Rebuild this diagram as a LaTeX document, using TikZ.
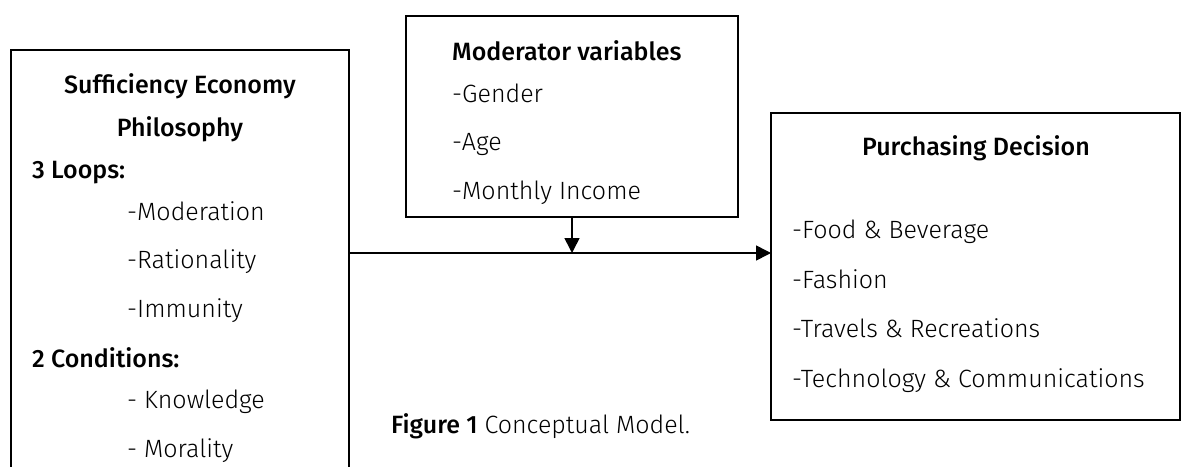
\documentclass[tikz,border=0pt]{standalone}
\usepackage{fontspec}
\setmainfont{Fira Sans Light}[BoldFont={Fira Sans Medium}]
\usepackage{tikz}
\usetikzlibrary{arrows.meta,positioning}
\newcommand{\fsz}{\fontsize{25}{29}\selectfont}
\tikzset{
  blk/.style={draw, line width=1.6pt, rectangle, anchor=north west, inner sep=0pt, outer sep=0pt},
  txt/.style={anchor=base west, inner sep=0pt, font=\fsz},
  bt/.style={txt, font=\fsz\bfseries},
  hd/.style={anchor=base, inner sep=0pt, font=\fsz\bfseries},
  arr/.style={line width=1.6pt, -{Triangle[length=15pt,width=15pt]}},
  every picture/.style={line cap=butt, line join=miter}
}
\begin{document}
\begin{tikzpicture}[x=1pt,y=-1pt]
  \clip (0,0) rectangle (1181,466);
  % the three boxes
  \node[blk, minimum width=338pt, minimum height=460pt] (sep) at (11,50) {};
  \node[blk, minimum width=332pt, minimum height=201pt] (mod) at (406,16) {};
  \node[blk, minimum width=409pt, minimum height=307pt] (pd) at (771,113) {};
  % left box text
  \node[hd] (sep1) at (180,93) {Sufficiency Economy};
  \node[hd] (sep2) at (180,136) {Philosophy};
  \node[bt] (loops) at (32,178) {3 Loops:};
  \node[txt] (l1) at (127,220) {-Moderation};
  \node[txt] (l2) at (127,268) {-Rationality};
  \node[txt] (l3) at (127,317) {-Immunity};
  \node[bt] (cond) at (32,367) {2 Conditions:};
  \node[txt] (c1) at (127,408) {- Knowledge};
  \node[txt] (c2) at (127,457) {- Morality};
  % moderator text
  \node[bt] (mod0) at (452,60) {Moderator variables};
  \node[txt] (m1) at (452,102) {-Gender};
  \node[txt] (m2) at (452,150) {-Age};
  \node[txt] (m3) at (452,199) {-Monthly Income};
  % purchasing decision text
  \node[hd] (pd0) at (976,155) {Purchasing Decision};
  \node[txt] (p1) at (792,238) {-Food \& Beverage};
  \node[txt] (p2) at (792,288) {-Fashion};
  \node[txt] (p3) at (792,337) {-Travels \& Recreations};
  \node[txt] (p4) at (792,387) {-Technology \& Communications};
  % caption
  \node[txt] (cap) at (391,433) {\textbf{Figure 1} Conceptual Model.};
  % connectors
  \coordinate (junc) at (mod.south |- 0,253);
  \draw[arr] (sep.east |- junc) -- (pd.west |- junc);
  \draw[arr] (mod.south) -- (junc);
\end{tikzpicture}
\end{document}
